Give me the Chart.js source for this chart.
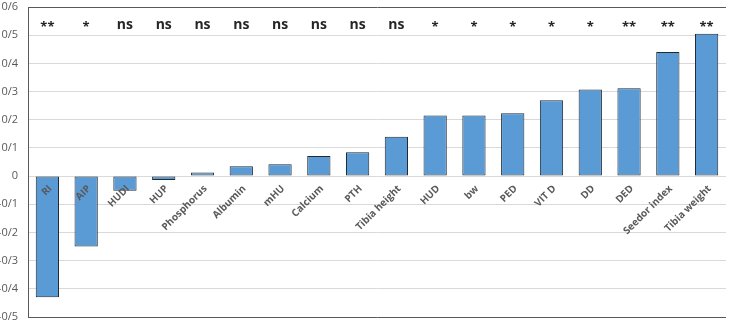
<!DOCTYPE html>
<html>
<head>
<meta charset="utf-8">
<script src="https://cdn.jsdelivr.net/npm/chart.js@4/dist/chart.umd.min.js"></script>
<style>
  html, body { margin: 0; padding: 0; background: #fff; }
  #wrap { width: 729px; height: 333px; }
</style>
</head>
<body>
<div id="wrap"><canvas id="c" width="729" height="333"></canvas></div>
<script>
const categories = ['RI', 'AIP', 'HUDI', 'HUP', 'Phosphorus', 'Albumin', 'mHU', 'Calcium', 'PTH', 'Tibia height', 'HUD', 'bw', 'PED', 'VIT D', 'DD', 'DED', 'Seedor index', 'Tibia weight'];
const values = [-0.43, -0.25, -0.052, -0.014, 0.013, 0.035, 0.042, 0.071, 0.085, 0.14, 0.215, 0.215, 0.223, 0.269, 0.307, 0.312, 0.44, 0.505];
const significance = ['**', '*', 'ns', 'ns', 'ns', 'ns', 'ns', 'ns', 'ns', 'ns', '*', '*', '*', '*', '*', '**', '**', '**'];
const yMin = -0.5, yMax = 0.6, yStep = 0.1;

function fmt(v) {
  const n = Math.round(v * 10);
  if (n === 0) return '0';
  return (n < 0 ? '-' : '') + '0/' + Math.abs(n);
}

const labelPlugin = {
  id: 'labelPlugin',
  afterDatasetsDraw(chart) {
    const ctx = chart.ctx;
    const xs = chart.scales.x, ys = chart.scales.y;
    const y0 = ys.getPixelForValue(0);
    ctx.save();
    ctx.fillStyle = '#595959';
    ctx.font = 'bold 10px "Open Sans"';
    ctx.textAlign = 'right';
    ctx.textBaseline = 'middle';
    categories.forEach((c, i) => {
      const x = xs.getPixelForValue(i);
      ctx.save();
      ctx.translate(x + 3, y0 + 11);
      ctx.rotate(-Math.PI / 4);
      ctx.fillText(c, 0, 0);
      ctx.restore();
    });
    ctx.fillStyle = '#262626';
    ctx.textAlign = 'center';
    ctx.textBaseline = 'alphabetic';
    significance.forEach((s, i) => {
      const x = xs.getPixelForValue(i);
      ctx.font = s === 'ns' ? 'bold 14px "Open Sans"' : 'bold 13px "Open Sans"';
      ctx.fillText(s, x, s === 'ns' ? 29 : 31);
    });
    ctx.restore();
  }
};

new Chart(document.getElementById('c'), {
  type: 'bar',
  data: {
    labels: categories,
    datasets: [{
      data: values,
      backgroundColor: '#5b9bd5',
      borderColor: '#1f2a33',
      borderWidth: 1,
      borderSkipped: false,
      categoryPercentage: 1.0,
      barPercentage: 0.6
    }]
  },
  options: {
    responsive: false,
    animation: false,
    devicePixelRatio: 1,
    layout: { padding: { top: 7, bottom: 16, right: 3, left: 0 } },
    plugins: { legend: { display: false }, tooltip: { enabled: false }, title: { display: false } },
    scales: {
      x: { display: false, offset: true },
      y: {
        min: yMin, max: yMax,
        afterFit(scale) { scale.width = 28; scale.paddingTop = 0; scale.paddingBottom = 0; },
        ticks: {
          stepSize: yStep,
          padding: 10,
          color: '#595959',
          font: { family: 'Open Sans', size: 11 },
          callback: (v) => fmt(v)
        },
        grid: {
          drawTicks: false,
          lineWidth: 1,
          color: (c) => {
            const v = c.tick ? c.tick.value : 0;
            if (Math.abs(v - yMax) < 1e-6 || Math.abs(v - yMin) < 1e-6) return '#595959';
            return '#d9d9d9';
          }
        },
        border: { display: true, color: '#595959', width: 1 }
      }
    }
  },
  plugins: [labelPlugin]
});
</script>
</body>
</html>
